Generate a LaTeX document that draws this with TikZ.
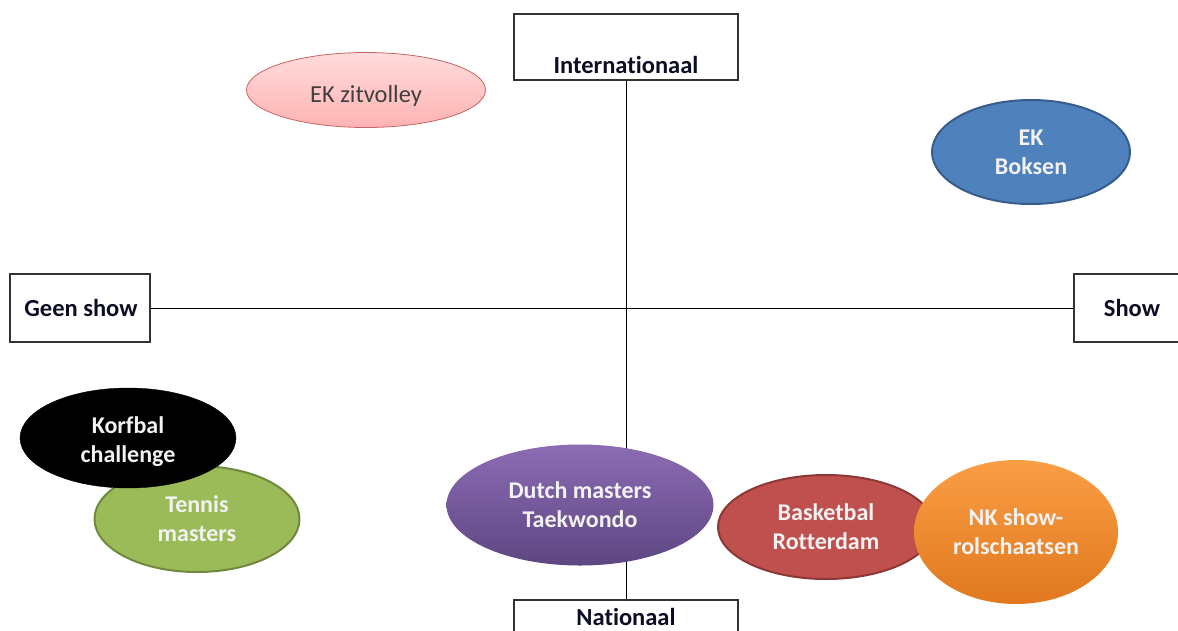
\documentclass[tikz,border=0pt]{standalone}
\usepackage{fontspec}
\setmainfont{Carlito}[Ligatures={NoCommon}]
\usetikzlibrary{shapes.geometric}
\definecolor{pinkA}{HTML}{FFDCDC}
\definecolor{pinkB}{HTML}{FFB2B2}
\definecolor{pinkD}{HTML}{C86464}
\definecolor{blueF}{HTML}{4F81BD}
\definecolor{blueD}{HTML}{385D8A}
\definecolor{greenF}{HTML}{9BBB59}
\definecolor{greenD}{HTML}{71893F}
\definecolor{purA}{HTML}{8C6CB4}
\definecolor{purB}{HTML}{5E4682}
\definecolor{redF}{HTML}{C0504D}
\definecolor{redD}{HTML}{8C3836}
\definecolor{orA}{HTML}{FA9E45}
\definecolor{orB}{HTML}{E0781E}
\definecolor{txtW}{HTML}{F2F2F2}
\definecolor{txtG}{HTML}{3F3F3F}
\definecolor{boxtxt}{HTML}{0D0D26}
\tikzset{
  axisbox/.style={draw=black!80, line width=1.2pt, fill=white, inner sep=0pt},
  boxlabel/.style={inner sep=0pt, text=boxtxt, font=\fontsize{24.5}{29}\selectfont\bfseries},
  oval/.style={ellipse, inner sep=0pt, align=center, text=txtW,
    font=\fontsize{24}{29}\selectfont\bfseries},
  ovaltext/.style={inner sep=0pt, align=center, text=txtW,
    font=\fontsize{24}{29}\selectfont\bfseries},
  axis/.style={draw=black, line width=1pt}
}
\begin{document}
\begin{tikzpicture}[x=1pt,y=-1pt]
\useasboundingbox (0,0) rectangle (1178,630);
\clip (0,0) rectangle (1178,630);
% axes
\node[axisbox, minimum width=224pt, minimum height=66pt] (int) at (626,47) {};
\node[boxlabel] (intl) at (626,65) {Internationaal};
\node[axisbox, minimum width=224pt, minimum height=66pt] (nat) at (626,633) {};
\node[boxlabel] (natl) at (626,617) {Nationaal};
\node[axisbox, minimum width=140pt, minimum height=68pt] (geen) at (80,308) {};
\node[boxlabel] (geenl) at (81,308) {Geen show};
\node[axisbox, minimum width=140pt, minimum height=68pt] (show) at (1144,308) {};
\node[boxlabel] (showl) at (1132,308) {Show};
\draw[axis] (int.south) -- (nat.north);
\draw[axis] (geen.east) -- (show.west);
% ovals
\node[oval, minimum width=239pt, minimum height=75pt, top color=pinkA, bottom color=pinkB,
  draw=pinkD, line width=0.8pt] (zit) at (366,90) {};
\node[ovaltext, text=txtG, font=\fontsize{24.5}{29}\selectfont] (zitl) at (366,96) {EK zitvolley};
\node[oval, minimum width=198pt, minimum height=104pt, fill=blueF, draw=blueD, line width=2pt] (boks) at (1031,152) {EK\\Boksen};
\node[oval, minimum width=205pt, minimum height=106pt, fill=greenF, draw=greenD, line width=2pt] (ten) at (197,519) {Tennis\\masters};
\node[oval, minimum width=216pt, minimum height=100pt, fill=black, draw=black] (korf) at (128,438) {};
\node[ovaltext] (korfl) at (128,442) {Korfbal\\challenge};
\node[oval, minimum width=267pt, minimum height=121pt, top color=purA, bottom color=purB] (dutch) at (580,505) {Dutch masters\\Taekwondo};
\node[oval, minimum width=216pt, minimum height=104pt, fill=redF, draw=redD, line width=2pt] (bask) at (826,527) {Basketbal\\Rotterdam};
\node[oval, minimum width=204pt, minimum height=144pt, top color=orA, bottom color=orB] (nk) at (1016,532) {NK show-\\rolschaatsen};
\end{tikzpicture}
\end{document}
